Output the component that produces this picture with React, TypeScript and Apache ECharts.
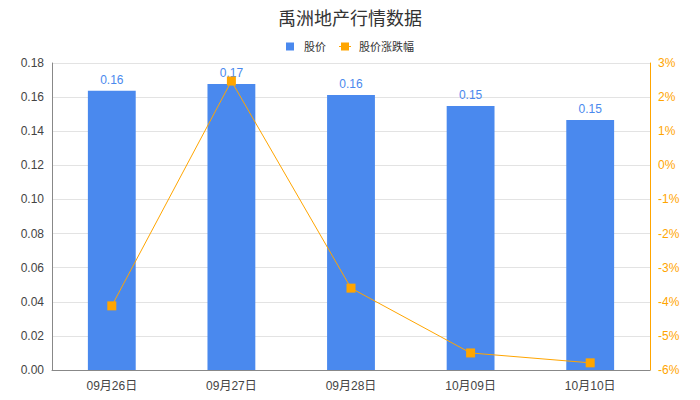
import React, { useEffect, useRef } from "react";
import * as echarts from "echarts";

const title = "禹洲地产行情数据";
const categories = ["09月26日", "09月27日", "09月28日", "10月09日", "10月10日"];
const priceValues = [0.1638, 0.1677, 0.1612, 0.1548, 0.1466];
const changeValues = [-4.12, 2.47, -3.6, -5.5, -5.79];
const seriesNames = ["股价", "股价涨跌幅"];

const FONT = "'Liberation Sans', 'Noto Sans CJK SC', sans-serif";

export default function App() {
  const ref = useRef<HTMLDivElement>(null);
  useEffect(() => {
    document.body.style.margin = "0";
    const chart = echarts.init(ref.current!, null, { renderer: "svg" });
    chart.setOption({
      animation: false,
      textStyle: { fontFamily: FONT },
      title: {
        text: title,
        left: "center",
        top: 5,
        textStyle: { fontSize: 18, fontWeight: "normal", color: "#333", fontFamily: FONT },
      },
      legend: {
        top: 36,
        left: "center",
        itemWidth: 18,
        itemHeight: 8,
        itemGap: 13,
        textStyle: { fontSize: 11, color: "#333", fontFamily: FONT },
        data: [
          { name: seriesNames[0], icon: "path://M0,0L10,0L10,10L0,10Z" },
          {
            name: seriesNames[1],
            icon: "path://M0,3.5L2,3.5L2,4.5L0,4.5Z M2,0L10,0L10,8L2,8Z M10,3.5L12,3.5L12,4.5L10,4.5Z",
          },
        ],
      },
      grid: { left: 52, right: 50, top: 63, bottom: 30 },
      xAxis: {
        type: "category",
        data: categories,
        axisLine: { lineStyle: { color: "#888" } },
        axisTick: { show: false },
        axisLabel: { fontSize: 12, color: "#444", margin: 10 },
      },
      yAxis: [
        {
          type: "value",
          min: 0,
          max: 0.18,
          interval: 0.02,
          axisLine: { show: true, lineStyle: { color: "#888" } },
          axisTick: { show: false },
          axisLabel: { fontSize: 12, color: "#444", formatter: (v: number) => v.toFixed(2) },
          splitLine: { lineStyle: { color: "#e3e3e3" } },
        },
        {
          type: "value",
          min: -6,
          max: 3,
          interval: 1,
          position: "right",
          axisLine: { show: true, lineStyle: { color: "#FFA500" } },
          axisTick: { show: false },
          axisLabel: { fontSize: 12, color: "#FFA500", formatter: "{value}%" },
          splitLine: { show: false },
        },
      ],
      series: [
        {
          name: seriesNames[0],
          type: "bar",
          data: priceValues,
          barWidth: "40%",
          itemStyle: { color: "#4A89EE" },
          label: {
            show: true,
            position: "top",
            color: "#4A89EE",
            fontSize: 12,
            formatter: (p: any) => Number(p.value).toFixed(2),
          },
        },
        {
          name: seriesNames[1],
          type: "line",
          yAxisIndex: 1,
          data: changeValues,
          symbol: "rect",
          symbolSize: 9,
          itemStyle: { color: "#FFA500" },
          lineStyle: { color: "#FFA500", width: 1 },
        },
      ],
    });
    return () => chart.dispose();
  }, []);
  return <div ref={ref} style={{ width: 700, height: 400 }} />;
}
